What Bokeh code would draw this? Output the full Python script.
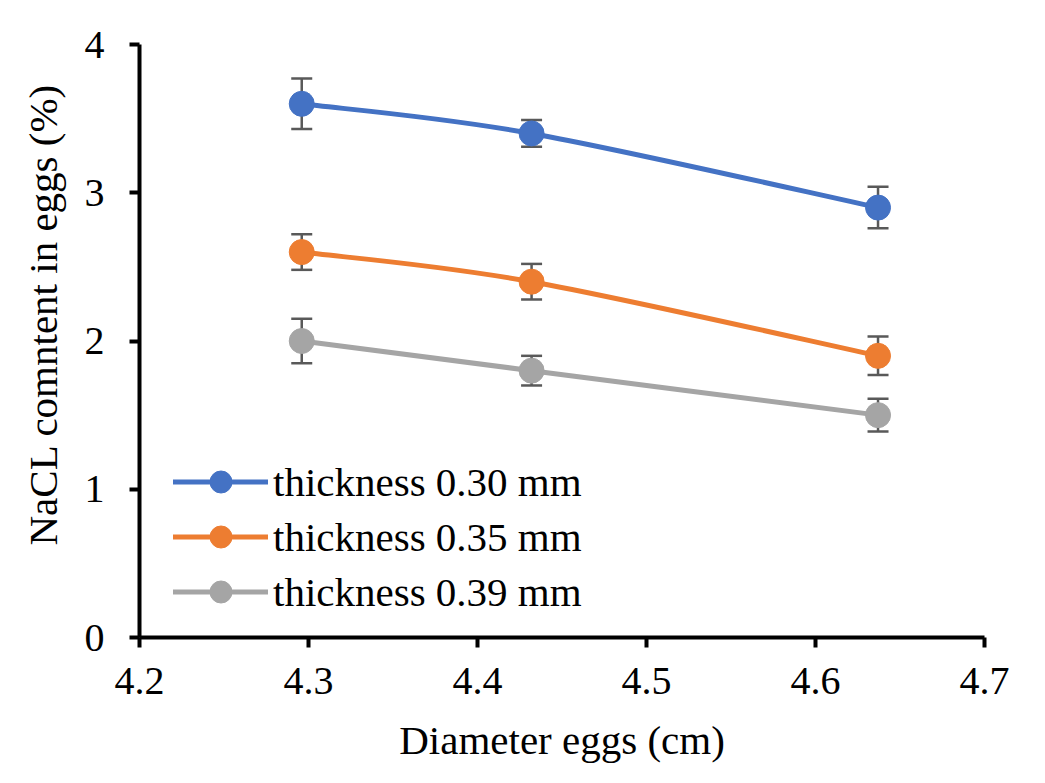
from bokeh.plotting import figure
from bokeh.models import ColumnDataSource, Whisker, Legend, LegendItem, Range1d, FixedTicker, Title
from bokeh.embed import file_html
from bokeh.resources import INLINE

diameter = [4.296, 4.432, 4.637]
series_names = ["thickness 0.30 mm", "thickness 0.35 mm", "thickness 0.39 mm"]
nacl_030 = [3.6, 3.4, 2.9]
nacl_035 = [2.6, 2.4, 1.9]
nacl_039 = [2.0, 1.8, 1.5]
err_030 = [0.17, 0.09, 0.14]
err_035 = [0.12, 0.12, 0.13]
err_039 = [0.15, 0.10, 0.11]
colors = ["#4472C4", "#ED7D31", "#A5A5A5"]
x_ticks = [4.2, 4.3, 4.4, 4.5, 4.6, 4.7]
y_ticks = [0, 1, 2, 3, 4]
x_title = "Diameter eggs (cm)"
y_title = "NaCL comntent in eggs (%)"

FONT = "Liberation Serif"

p = figure(width=1029, height=767, output_backend="svg", toolbar_location=None,
           x_range=Range1d(4.2, 4.7), y_range=Range1d(0, 4),
           frame_width=845, frame_height=593,
           min_border_left=139, min_border_top=44, min_border_right=45, min_border_bottom=130)
p.grid.visible = False
p.outline_line_color = None
p.background_fill_color = "white"

for ax in (p.xaxis[0], p.yaxis[0]):
    ax.axis_line_width = 4
    ax.axis_line_color = "black"
    ax.major_tick_line_width = 4
    ax.major_tick_line_color = "black"
    ax.major_tick_in = 0
    ax.major_tick_out = 10
    ax.minor_tick_line_color = None
    ax.major_label_text_font = FONT
    ax.major_label_text_font_size = "40px"
    ax.major_label_text_color = "black"
    ax.axis_label_text_font = FONT
    ax.axis_label_text_font_size = "41px"
    ax.axis_label_text_font_style = "normal"
    ax.axis_label_text_color = "black"

p.xaxis.ticker = FixedTicker(ticks=x_ticks)
p.yaxis.ticker = FixedTicker(ticks=y_ticks)
p.xaxis.major_label_standoff = 20
p.yaxis.major_label_standoff = 25
p.xaxis.axis_label = x_title
p.xaxis.axis_label_standoff = 20

# y-axis title as a side title, so it can sit a little above the frame centre
p.add_layout(Title(text=y_title, align="left", offset=92, standoff=31,
                   vertical_align="bottom", text_font=FONT, text_font_size="41px",
                   text_font_style="normal", text_color="black"), "left")


def smooth_segments(xs, ys, k=1.0 / 6.0):
    n = len(xs)
    seg = dict(x0=[], y0=[], x1=[], y1=[], cx0=[], cy0=[], cx1=[], cy1=[])
    for i in range(n - 1):
        xp, yp = (xs[i - 1], ys[i - 1]) if i > 0 else (xs[i], ys[i])
        xn, yn = (xs[i + 2], ys[i + 2]) if i + 2 < n else (xs[i + 1], ys[i + 1])
        seg["x0"].append(xs[i]); seg["y0"].append(ys[i])
        seg["x1"].append(xs[i + 1]); seg["y1"].append(ys[i + 1])
        seg["cx0"].append(xs[i] + (xs[i + 1] - xp) * k)
        seg["cy0"].append(ys[i] + (ys[i + 1] - yp) * k)
        seg["cx1"].append(xs[i + 1] - (xn - xs[i]) * k)
        seg["cy1"].append(ys[i + 1] - (yn - ys[i]) * k)
    return seg


items = []
for name, vals, errs, col in zip(series_names, [nacl_030, nacl_035, nacl_039],
                                 [err_030, err_035, err_039], colors):
    p.bezier(source=ColumnDataSource(smooth_segments(diameter, vals)),
             x0="x0", y0="y0", x1="x1", y1="y1", cx0="cx0", cy0="cy0", cx1="cx1", cy1="cy1",
             line_color=col, line_width=5, line_cap="round")
    src = ColumnDataSource(dict(x=diameter, y=vals,
                                lo=[v - e for v, e in zip(vals, errs)],
                                hi=[v + e for v, e in zip(vals, errs)]))
    w = Whisker(source=src, base="x", lower="lo", upper="hi", line_color="#595959", line_width=2.5)
    w.upper_head.size = 21
    w.lower_head.size = 21
    w.upper_head.line_color = "#595959"
    w.lower_head.line_color = "#595959"
    w.upper_head.line_width = 2.5
    w.lower_head.line_width = 2.5
    p.add_layout(w)
    sc = p.scatter("x", "y", source=src, size=25, fill_color=col, line_color=col)
    # legend-only line (no visible data point on the plot)
    leg_line = p.line(x=[float("nan")], y=[float("nan")], line_color=col, line_width=5,
                      line_cap="round")
    items.append(LegendItem(label=name, renderers=[leg_line, sc]))

legend = Legend(items=items, location=(34, 18), padding=0, margin=0, spacing=0,
                glyph_width=95, glyph_height=55, label_height=55, label_standoff=5,
                label_text_font=FONT, label_text_font_size="41px", label_text_color="black",
                border_line_color=None, background_fill_alpha=0)
p.add_layout(legend, "center")

open("out.html", "w").write(file_html(p, INLINE))
